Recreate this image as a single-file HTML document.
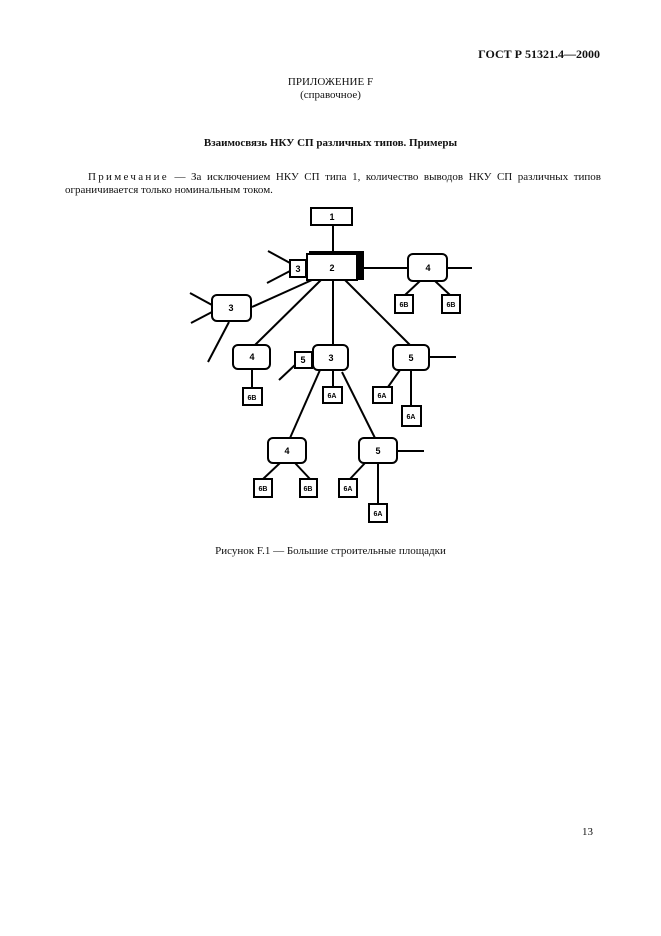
<!DOCTYPE html>
<html><head><meta charset="utf-8"><style>
body{margin:0;background:#fff;}
.p{position:relative;width:661px;height:936px;overflow:hidden;font-family:"Liberation Serif",serif;color:#111;}
.t{position:absolute;white-space:nowrap;font-size:11px;}
</style></head><body><div class="p">
<div class="t" style="right:61px;top:47px;font-weight:bold;font-size:12px;">ГОСТ Р 51321.4—2000</div>
<div class="t" style="left:0;width:661px;text-align:center;top:76px;">ПРИЛОЖЕНИЕ F</div>
<div class="t" style="left:0;width:661px;text-align:center;top:89px;">(справочное)</div>
<div class="t" style="left:0;width:661px;text-align:center;top:137px;font-weight:bold;">Взаимосвязь НКУ СП различных типов. Примеры</div>
<div class="t" style="left:88px;top:171px;width:513px;text-align:justify;text-align-last:justify;"><span style="letter-spacing:2.3px">Примечание</span> — За исключением НКУ СП типа 1, количество выводов НКУ СП различных типов</div>
<div class="t" style="left:65px;top:184px;">ограничивается только номинальным током.</div>
<div class="t" style="left:0;width:661px;text-align:center;top:545px;">Рисунок F.1 — Большие строительные площадки</div>
<div class="t" style="left:582px;top:826px;">13</div>
<svg width="661" height="936" style="position:absolute;left:0;top:0" font-family="Liberation Sans, sans-serif" font-weight="bold" font-size="9" text-anchor="middle">
<g stroke="#000" stroke-width="2" fill="none">
<line x1="333" y1="225" x2="333" y2="253"/>
<line x1="268" y1="251" x2="290" y2="263"/><line x1="267" y1="283" x2="290" y2="271"/>
<line x1="363" y1="268" x2="408" y2="268"/><line x1="447" y1="268" x2="472" y2="268"/>
<line x1="420" y1="281" x2="405" y2="295"/><line x1="435" y1="281" x2="450" y2="295"/>
<line x1="190" y1="293" x2="212" y2="305"/><line x1="191" y1="323" x2="212" y2="312"/><line x1="229" y1="322" x2="208" y2="362"/>
<line x1="252" y1="307" x2="312" y2="280"/>
<line x1="255" y1="345" x2="321" y2="280"/>
<line x1="252" y1="368" x2="252" y2="388"/>
<line x1="333" y1="280" x2="333" y2="345"/>
<line x1="295" y1="365" x2="279" y2="380"/>
<line x1="333" y1="370" x2="333" y2="387"/>
<line x1="345" y1="280" x2="410" y2="345"/>
<line x1="429" y1="357" x2="456" y2="357"/>
<line x1="400" y1="370" x2="388" y2="387"/><line x1="411" y1="370" x2="411" y2="405"/>
<line x1="320" y1="370" x2="290" y2="438"/><line x1="342" y1="372" x2="375" y2="438"/>
<line x1="280" y1="463" x2="263" y2="479"/><line x1="295" y1="463" x2="310" y2="479"/>
<line x1="397" y1="451" x2="424" y2="451"/>
<line x1="365" y1="463" x2="350" y2="479"/><line x1="378" y1="463" x2="378" y2="503"/>
</g>
<rect x="309" y="251" width="55" height="29" fill="#000"/>
<g stroke="#000" stroke-width="2" fill="#fff">
<rect x="311" y="208" width="41" height="17"/>
<rect x="307" y="254" width="50" height="26"/>
<rect x="290" y="260" width="16" height="17"/>
<rect x="408" y="254" width="39" height="27" rx="5"/>
<rect x="395" y="295" width="18" height="18"/><rect x="442" y="295" width="18" height="18"/>
<rect x="212" y="295" width="39" height="26" rx="5"/>
<rect x="233" y="345" width="37" height="24" rx="5"/>
<rect x="243" y="388" width="19" height="17"/>
<rect x="295" y="352" width="17" height="16"/>
<rect x="313" y="345" width="35" height="25" rx="5"/>
<rect x="323" y="387" width="19" height="16"/>
<rect x="393" y="345" width="36" height="25" rx="5"/>
<rect x="373" y="387" width="19" height="16"/>
<rect x="402" y="406" width="19" height="20"/>
<rect x="268" y="438" width="38" height="25" rx="5"/>
<rect x="254" y="479" width="18" height="18"/><rect x="300" y="479" width="17" height="18"/>
<rect x="359" y="438" width="38" height="25" rx="5"/>
<rect x="339" y="479" width="18" height="18"/>
<rect x="369" y="504" width="18" height="18"/>
</g>
<g fill="#000">
<text x="332" y="220">1</text><text x="332" y="271">2</text><text x="298" y="272">3</text>
<text x="428" y="271">4</text><text x="404" y="307" font-size="7">6B</text><text x="451" y="307" font-size="7">6B</text>
<text x="231" y="311">3</text><text x="252" y="360">4</text><text x="252" y="400" font-size="7">6B</text>
<text x="303" y="363">5</text><text x="331" y="361">3</text><text x="332" y="398" font-size="7">6A</text>
<text x="411" y="361">5</text><text x="382" y="398" font-size="7">6A</text><text x="411" y="419" font-size="7">6A</text>
<text x="287" y="454">4</text><text x="263" y="491" font-size="7">6B</text><text x="308" y="491" font-size="7">6B</text>
<text x="378" y="454">5</text><text x="348" y="491" font-size="7">6A</text><text x="378" y="516" font-size="7">6A</text>
</g>
</svg>
</div></body></html>
